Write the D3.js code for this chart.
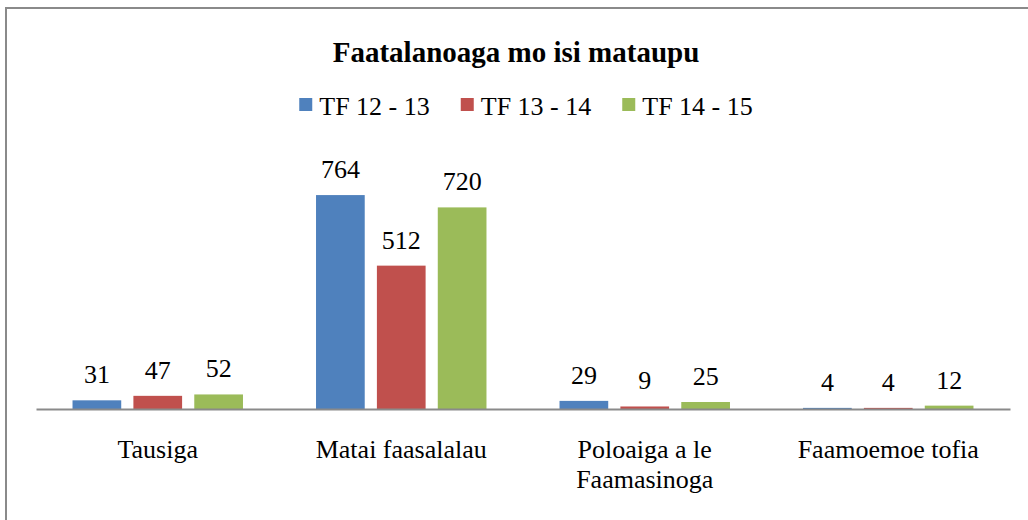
<!DOCTYPE html>
<html>
<head>
<meta charset="utf-8">
<script src="https://cdn.jsdelivr.net/npm/d3@7"></script>
</head>
<body style="margin:0; background:#fff">
<svg width="1028" height="520"></svg>
<script>
// chart data
var categories = ["Tausiga", "Matai faasalalau", "Poloaiga a le Faamasinoga", "Faamoemoe tofia"];
var seriesNames = ["TF 12 - 13", "TF 13 - 14", "TF 14 - 15"];
var tf1213 = [31, 764, 29, 4];
var tf1314 = [47, 512, 9, 4];
var tf1415 = [52, 720, 25, 12];
var colors = ["#4F81BD", "#C0504D", "#9BBB59"];

var seriesValues = [tf1213, tf1314, tf1415];
var serif = "Liberation Serif";

var svg = d3.select("svg");

// outer frame (right and bottom edges fall outside the picture)
svg.append("rect")
    .attr("x", 6).attr("y", 8)
    .attr("width", 1040).attr("height", 530)
    .attr("fill", "none")
    .attr("stroke", "#8a8a8a")
    .attr("stroke-width", 2);

svg.append("text")
    .attr("x", 516).attr("y", 62)
    .attr("text-anchor", "middle")
    .attr("font-family", serif)
    .attr("font-size", 29)
    .attr("font-weight", "bold")
    .text("Faatalanoaga mo isi mataupu");

// legend
var gLegend = svg.append("g");
var items = gLegend.selectAll("g.item")
    .data(seriesNames)
  .enter().append("g")
    .attr("class", "item");
items.append("rect")
    .attr("y", 98).attr("width", 13).attr("height", 13)
    .attr("fill", function(d, i) { return colors[i]; });
items.append("text")
    .attr("x", 20).attr("y", 115)
    .attr("font-family", serif)
    .attr("font-size", 26)
    .text(function(d) { return d; });

var xPos = 0;
items.each(function() {
  var w = d3.select(this).select("text").node().getComputedTextLength();
  d3.select(this).attr("transform", "translate(" + xPos + ",0)");
  xPos += 20 + w + 31;
});
var legendW = xPos - 31;
gLegend.attr("transform", "translate(" + (526 - legendW / 2) + ",0)");

// plot
var baseY = 409;
var x0 = d3.scaleBand().domain(categories).range([36, 1010]).padding(0);
var x1 = d3.scaleBand().domain(seriesNames).range([0, x0.bandwidth()])
    .paddingInner(0.2).paddingOuter(0.6);
var y = d3.scaleLinear().domain([0, 900]).range([baseY, 157]);

var groups = svg.selectAll("g.cat")
    .data(categories)
  .enter().append("g")
    .attr("class", "cat")
    .attr("transform", function(d) { return "translate(" + x0(d) + ",0)"; });

groups.selectAll("rect")
    .data(function(d, ci) { return seriesNames.map(function(s, si) { return {s: s, i: si, v: seriesValues[si][ci]}; }); })
  .enter().append("rect")
    .attr("x", function(d) { return x1(d.s); })
    .attr("width", x1.bandwidth())
    .attr("y", function(d) { return y(d.v); })
    .attr("height", function(d) { return baseY - y(d.v); })
    .attr("fill", function(d) { return colors[d.i]; });

groups.selectAll("text.val")
    .data(function(d, ci) { return seriesNames.map(function(s, si) { return {s: s, v: seriesValues[si][ci]}; }); })
  .enter().append("text")
    .attr("class", "val")
    .attr("x", function(d) { return x1(d.s) + x1.bandwidth() / 2; })
    .attr("y", function(d) { return y(d.v) - 17; })
    .attr("text-anchor", "middle")
    .attr("font-family", serif)
    .attr("font-size", 26)
    .text(function(d) { return d.v; });

// category axis
svg.append("g")
    .attr("transform", "translate(0," + baseY + ")")
    .call(d3.axisBottom(x0).tickSize(0).tickPadding(0).tickFormat(""))
    .call(function(g) {
      g.select(".domain").attr("stroke", "#8a8a8a").attr("stroke-width", 2);
      g.selectAll(".tick text").remove();
    });

var catLabels = groups.append("text")
    .attr("x", x0.bandwidth() / 2)
    .attr("y", baseY + 49)
    .attr("text-anchor", "middle")
    .attr("font-family", serif)
    .attr("font-size", 26)
    .text(function(d) { return d; });

// wrap long category names like the original
catLabels.each(function(d) {
  var t = d3.select(this);
  var maxW = x0.bandwidth() - 30;
  if (t.node().getComputedTextLength() <= maxW) return;
  var words = d.split(" ");
  t.text(null);
  var line = [];
  var tspan = t.append("tspan").attr("x", x0.bandwidth() / 2).attr("dy", 0);
  words.forEach(function(w) {
    line.push(w);
    tspan.text(line.join(" "));
    if (tspan.node().getComputedTextLength() > maxW && line.length > 1) {
      line.pop();
      tspan.text(line.join(" "));
      line = [w];
      tspan = t.append("tspan").attr("x", x0.bandwidth() / 2).attr("dy", 30).text(w);
    }
  });
});
</script>
</body>
</html>
